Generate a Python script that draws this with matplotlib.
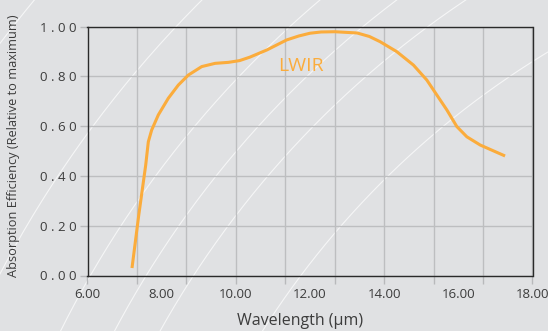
import numpy as np
import matplotlib.pyplot as plt
from matplotlib.lines import Line2D

plt.rcParams['font.family'] = ['Open Sans', 'DejaVu Sans']

# absorption curve
wavelength = [7.20, 7.38, 7.57, 7.64, 7.73, 7.91, 8.18, 8.45, 8.72, 9.08, 9.44, 9.80,
              10.10, 10.38, 10.84, 11.37, 11.70, 12.00, 12.30, 12.67, 13.27, 13.60,
              13.89, 14.34, 14.79, 15.15, 15.42, 15.69, 15.96, 16.23, 16.59, 16.94, 17.26]
efficiency = [0.03, 0.24, 0.444, 0.537, 0.584, 0.645, 0.712, 0.765, 0.805, 0.839, 0.852, 0.856,
              0.863, 0.877, 0.906, 0.946, 0.962, 0.973, 0.978, 0.979, 0.974, 0.96,
              0.939, 0.899, 0.845, 0.785, 0.725, 0.665, 0.598, 0.557, 0.524, 0.501, 0.48]

x_labels = [6, 8, 10, 12, 14, 16, 18]
y_labels = [0.0, 0.2, 0.4, 0.6, 0.8, 1.0]

bg = '#e0e1e3'
orange = '#fbac3c'
txt = '#3c3c3c'

fig = plt.figure(figsize=(5.48, 3.31), dpi=100, facecolor=bg)

# faint decorative arcs in the background
W, H = 548, 331
cx, cy = 1000, 800
t = np.linspace(np.pi, 1.5 * np.pi, 400)
for r in [1254, 1130, 1050, 1002, 962, 874]:
    px = cx + r * np.cos(t)
    py = cy + r * np.sin(t)
    fig.add_artist(Line2D(px / W, 1 - py / H, transform=fig.transFigure,
                          color='white', lw=0.8, alpha=0.7, zorder=0))

ax = fig.add_axes([87.5 / W, 1 - 275.5 / H, 445 / W, 249 / H])
ax.set_facecolor('none')
ax.set_xlim(6, 18)
ax.set_ylim(0, 1)

# grid: 9 vertical divisions, ticks on the grid lines
grid_x = np.linspace(6, 18, 10)
ax.set_xticks(grid_x)
ax.set_xticklabels([])
ax.tick_params(axis='x', which='major', length=6, color='#b8b9bb', width=1)
for v in x_labels:
    ax.text(v, -0.075, '%.2f' % v, transform=ax.get_xaxis_transform(),
            ha='center', va='center', fontsize=9.5, color=txt)

ax.set_yticks(y_labels)
ax.set_yticklabels([' '.join('%.2f' % v) for v in y_labels])
ax.tick_params(axis='y', length=6, color='#b8b9bb', width=1, labelsize=9.5, labelcolor=txt, pad=2)

ax.grid(True, which='major', color='#bdbec0', lw=1)
for s in ax.spines.values():
    s.set_color('#2a2a2a')
    s.set_linewidth(1.0)

ax.plot(wavelength, efficiency, color=orange, lw=2.2, solid_capstyle='butt', zorder=3)
ax.text(11.76, 0.84, 'LWIR', color=orange, fontsize=14, ha='center', va='center')

fig.text(300 / W, 1 - 321 / H, 'Wavelength (μm)', fontsize=11.5, color=txt,
         ha='center', va='center')
fig.text(14 / W, 1 - 146 / H, 'Absorption Efficiency (Relative to maximum)', fontsize=9.2,
         color=txt, rotation=90, ha='center', va='center')

fig.savefig('out.png', dpi=100, facecolor=bg)
